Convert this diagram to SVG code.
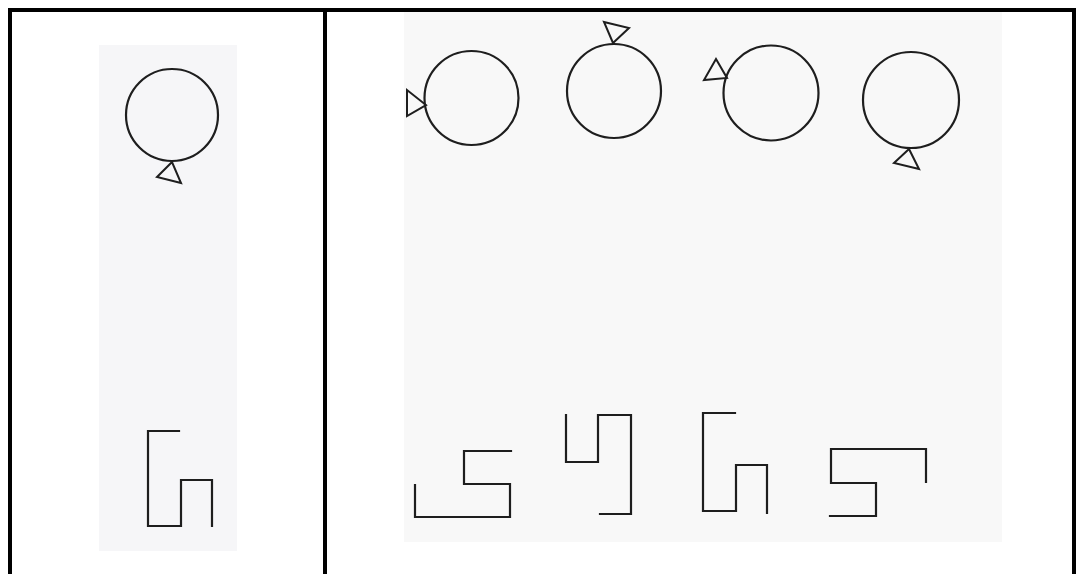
<svg xmlns="http://www.w3.org/2000/svg" width="1080" height="574" viewBox="0 0 1080 574">
<style>
.ln{fill:none;stroke:#1e1e1e;stroke-width:2.2;stroke-linejoin:miter;stroke-linecap:square}
.tri{fill:none;stroke:#1e1e1e;stroke-width:2;stroke-linejoin:miter}
.frame{stroke:#000;stroke-width:4;fill:none}
</style>
<rect width="1080" height="574" fill="#fff"/>
<g id="papers">
<rect x="99" y="45" width="138" height="506" fill="#f6f6f8"/>
<rect x="404" y="12" width="598" height="530" fill="#f8f8f8"/>
</g>
<g id="frame">
<line class="frame" x1="8" y1="10" x2="1076" y2="10"/>
<line class="frame" x1="10" y1="8" x2="10" y2="574"/>
<line class="frame" x1="325" y1="10" x2="325" y2="574"/>
<line class="frame" x1="1074" y1="10" x2="1074" y2="574"/>
</g>
<g id="sample-circle">
<circle class="ln" cx="172" cy="115" r="46"/>
<polygon class="tri" points="172,162 157,177 181,183"/>
</g>
<g id="sample-shape">
<polyline class="ln" points="179,431 148,431 148,526 181,526 181,480 212,480 212,526"/>
</g>
<g id="circle-1">
<circle class="ln" cx="471.5" cy="98" r="47"/>
<polygon class="tri" points="407,90 407,116 426,105"/>
</g>
<g id="circle-2">
<circle class="ln" cx="614" cy="91" r="47"/>
<polygon class="tri" points="604,22 629,28 613,43"/>
</g>
<g id="circle-3">
<circle class="ln" cx="771" cy="93" r="47.5"/>
<polygon class="tri" points="716,59 704,80 727,78"/>
</g>
<g id="circle-4">
<circle class="ln" cx="911" cy="100" r="48"/>
<polygon class="tri" points="909,149 894,163 919,169"/>
</g>
<g id="shape-1">
<polyline class="ln" points="415,485 415,517 510,517 510,484 464,484 464,451 511,451"/>
</g>
<g id="shape-2">
<polyline class="ln" points="566,415 566,462 598,462 598,415 631,415 631,514 600,514"/>
</g>
<g id="shape-3">
<polyline class="ln" points="735,413 703,413 703,511 736,511 736,465 767,465 767,513"/>
</g>
<g id="shape-4">
<polyline class="ln" points="926,482 926,449 831,449 831,483 876,483 876,516 830,516"/>
</g>
<g id="connectors"></g>
</svg>
